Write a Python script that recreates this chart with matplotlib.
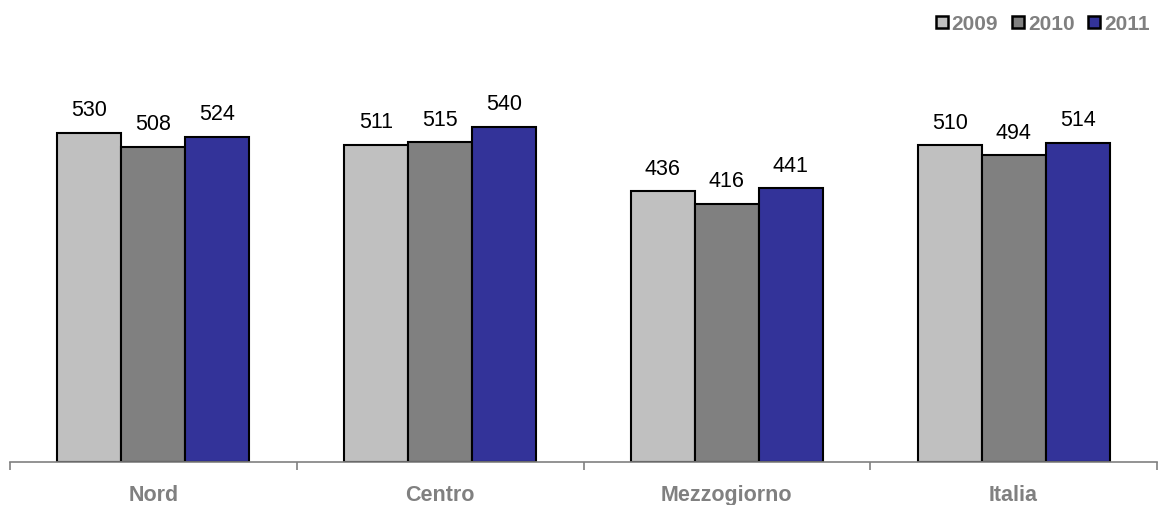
import matplotlib.pyplot as plt
import numpy as np
from matplotlib.patches import Patch

plt.rcParams['font.family'] = ['Liberation Sans', 'DejaVu Sans']

categories = ['Nord', 'Centro', 'Mezzogiorno', 'Italia']
years = ['2009', '2010', '2011']
values_2009 = [530, 511, 436, 510]
values_2010 = [508, 515, 416, 494]
values_2011 = [524, 540, 441, 514]
colors = ['#c0c0c0', '#808080', '#333399']

fig = plt.figure(figsize=(11.58, 5.06), dpi=100)
ax = fig.add_axes([10 / 1158, 43 / 506, 1147 / 1158, 372.6 / 506])

x = np.arange(len(categories))
width = 0.223
series = [values_2009, values_2010, values_2011]
for i, (vals, col) in enumerate(zip(series, colors)):
    pos = x + (i - 1) * width
    bars = ax.bar(pos, vals, width, color=col, edgecolor='black', linewidth=1.5)
    for b, v in zip(bars, vals):
        ax.text(b.get_x() + b.get_width() / 2, v + 20, str(v),
                ha='center', va='bottom', fontsize=15.5)

ax.set_xlim(-0.5, len(categories) - 0.5)
ax.set_ylim(0, 600)

# only the bottom axis, with ticks between the categories
for s in ['top', 'right', 'left']:
    ax.spines[s].set_visible(False)
ax.spines['bottom'].set_color('#808080')
ax.spines['bottom'].set_linewidth(1.2)
ax.set_yticks([])
ax.set_xticks(np.arange(len(categories) + 1) - 0.5)
ax.set_xticklabels([])
ax.tick_params(axis='x', direction='out', length=6, color='#808080', width=1.2)
for xi, cat in zip(x, categories):
    ax.text(xi, -0.058, cat, transform=ax.get_xaxis_transform(), ha='center', va='top',
            fontsize=15.5, fontweight='bold', color='#808080')

handles = [Patch(facecolor=c, edgecolor='black', linewidth=1.8, label=y)
           for c, y in zip(colors, years)]
leg = fig.legend(handles=handles, loc='upper right', bbox_to_anchor=(1158 / 1158, 1 - 7 / 506),
                 ncol=3, frameon=False, handlelength=0.57, handleheight=0.57,
                 handletextpad=0.2, columnspacing=0.65, borderaxespad=0,
                 prop={'weight': 'bold', 'size': 15})
for t in leg.get_texts():
    t.set_color('#808080')

plt.savefig('out.png', dpi=100)
plt.close()
